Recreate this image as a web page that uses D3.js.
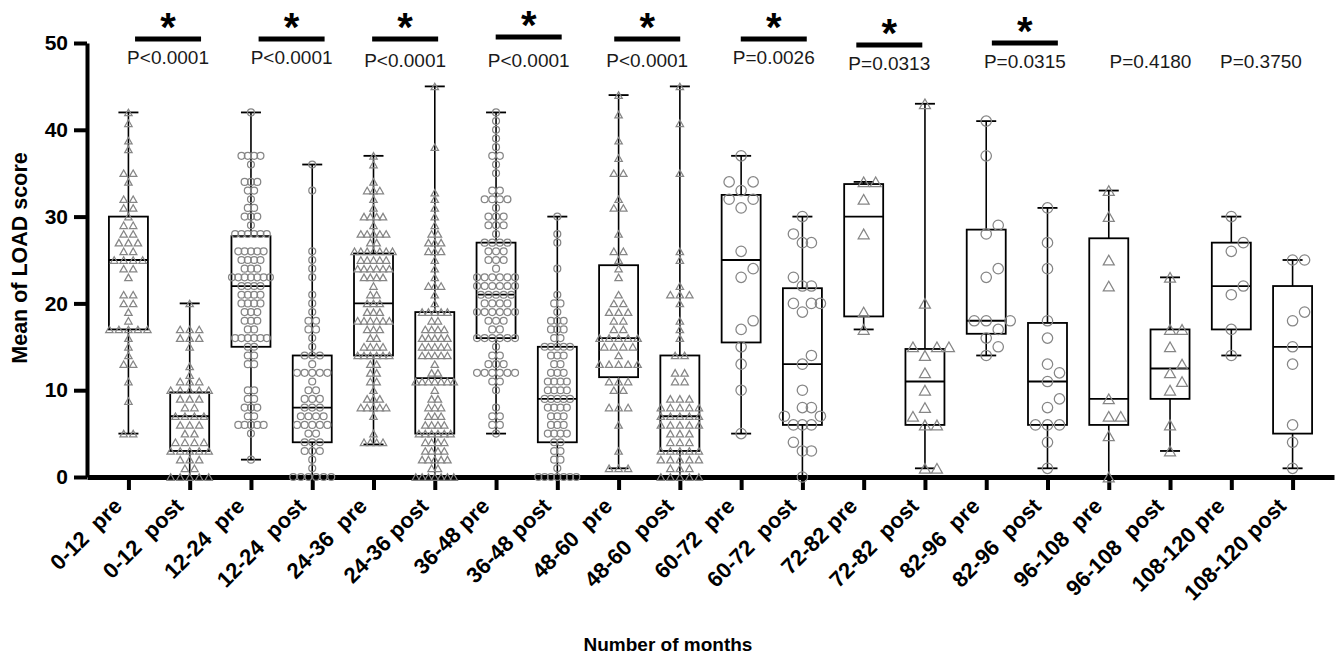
<!DOCTYPE html>
<html>
<head>
<meta charset="utf-8">
<script src="https://cdn.jsdelivr.net/npm/d3@7"></script>
<style>
  html, body { margin: 0; padding: 0; background: #ffffff; }
  svg { display: block; }
  text { font-family: Arial, "Liberation Sans", Helvetica, sans-serif; }
</style>
</head>
<body>
<svg id="chart" width="1340" height="661"></svg>
<script>
// ---- categories (pre / post pairs by follow-up window) ----
const categories = [
  "0-12  pre", "0-12  post", "12-24  pre", "12-24  post", "24-36  pre", "24-36 post",
  "36-48 pre", "36-48 post", "48-60  pre", "48-60  post", "60-72  pre", "60-72  post",
  "72-82 pre", "72-82  post", "82-96  pre", "82-96  post", "96-108  pre", "96-108  post",
  "108-120 pre", "108-120 post"
];

// ---- individual mean LOAD scores per group ----
const pre0_12 = [42, 40.75, 38.75, 37.75, 35, 35, 34, 32, 32, 31, 31, 30, 29, 29, 28, 28, 27, 27, 27, 26, 26, 25, 25, 25, 25, 24, 24, 23, 21, 21, 20, 20, 19, 18, 17, 17, 17, 17, 17, 16, 15, 14, 13, 13, 11, 8.75, 5, 5];
const post0_12 = [20, 17, 17, 17, 16, 16, 16, 15, 12.75, 11.75, 11, 11, 11, 10, 10, 10, 10, 10, 9, 9, 9, 8, 8, 7, 7, 7, 7, 6, 6, 6, 5, 5, 4, 4, 4, 4, 3, 3, 3, 3, 3, 2, 2, 2, 1, 1, 0, 0, 0, 0, 0];
const pre12_24 = [42, 37, 37, 37, 37, 36, 34, 34, 34, 33, 33, 32, 31, 31, 30, 30, 30, 29, 28, 28, 28, 28, 28, 28, 26, 26, 26, 26, 26, 25, 25, 25, 25, 24, 24, 24, 23, 23, 23, 23, 23, 23, 23, 22, 22, 22, 22, 21, 21, 21, 21, 20, 20, 20, 20, 19, 19, 19, 18, 18, 18, 17, 17, 16, 16, 16, 16, 16, 16, 15, 15, 14, 14, 13, 13, 10, 10, 9, 9, 8, 8, 8, 7, 7, 6, 6, 6, 6, 6, 5, 2];
const post12_24 = [36, 33, 26, 25, 24, 23, 21, 20, 19, 18, 18, 17, 17, 16, 15, 14, 14, 14, 13, 12, 12, 12, 12, 12, 11, 10, 10, 9, 9, 9, 8, 8, 8, 7, 7, 7, 7, 6, 6, 6, 6, 6, 5, 5, 4, 4, 4, 3, 3, 3, 2, 1, 0, 0, 0, 0, 0, 0];
const pre24_36 = [37, 36, 34, 33, 33, 33, 32, 31, 30, 30, 30, 30, 29, 28, 28, 28, 28, 28, 27, 27, 26, 26, 26, 26, 26, 26, 26, 25, 25, 25, 25, 25, 24, 24, 24, 24, 24, 24, 23, 23, 23, 23, 22, 21, 21, 20, 20, 20, 19, 19, 19, 18, 18, 18, 18, 18, 18, 17, 17, 17, 16, 16, 15, 15, 15, 15, 14, 14, 14, 14, 14, 14, 13, 13, 12, 12, 11, 11, 10, 9, 9, 9, 8, 8, 8, 8, 8, 7, 5, 4, 4, 4, 4];
const post24_36 = [45, 38, 32.75, 32, 31, 30, 29, 28, 28, 27, 27, 27, 26, 26, 26, 25, 24, 23, 22, 22, 22, 21, 20, 19, 19, 19, 19, 19, 18, 18, 17, 17, 17, 17, 16, 16, 16, 16, 16, 15, 15, 15, 15, 15, 14, 14, 14, 14, 14, 13, 12, 12, 11, 11, 11, 11, 11, 11, 11, 10, 9, 9, 8, 8, 8, 7, 7, 7, 6, 6, 6, 6, 5, 5, 5, 5, 5, 5, 4, 4, 4, 4, 3, 3, 3, 3, 2, 2, 2, 2, 2, 1, 1, 0, 0, 0, 0, 0, 0, 0];
const pre36_48 = [42, 41, 40, 39, 38, 37, 37, 36, 35, 33, 33, 32, 32, 32, 32, 31, 30, 30, 30, 29, 29, 29, 28, 27, 27, 27, 27, 26, 26, 26, 25, 25, 25, 24, 23, 23, 23, 23, 23, 23, 22, 22, 22, 22, 22, 22, 21, 21, 21, 21, 21, 20, 20, 20, 20, 19, 19, 19, 19, 19, 19, 18, 18, 18, 17, 17, 16, 16, 16, 16, 16, 16, 15, 14, 14, 13, 13, 13, 12, 12, 12, 12, 12, 12, 11, 11, 10, 8, 7, 7, 6, 6, 5];
const post36_48 = [30, 28, 27, 24, 21, 20, 20, 19, 18, 18, 18, 17, 17, 17, 16, 16, 15, 15, 15, 15, 15, 14, 14, 14, 13, 13, 12, 12, 12, 11, 11, 11, 11, 10, 10, 10, 10, 9, 9, 9, 9, 9, 8, 8, 8, 8, 7, 7, 7, 6, 6, 6, 5, 5, 5, 5, 4, 4, 3, 3, 2, 2, 1, 0, 0, 0, 0, 0, 0, 0];
const pre48_60 = [44, 41.75, 38.75, 36.75, 35, 35, 32, 31, 31, 28, 26, 26, 25, 24, 23, 21, 20, 20, 19, 19, 19, 18, 18, 17, 17, 16, 16, 16, 16, 16, 15, 15, 15, 15, 14, 13, 13, 13, 13, 13, 11, 11, 11, 10, 10, 8, 8, 8, 6, 3, 1, 1, 1];
const post48_60 = [45, 40.75, 35, 26, 25, 22, 21, 21, 21, 20, 18, 17, 16, 14, 14, 12, 12, 11, 11, 9, 9, 9, 8, 8, 8, 8, 8, 7, 7, 7, 7, 7, 6, 6, 6, 6, 6, 5, 5, 5, 4, 4, 4, 3, 3, 3, 3, 3, 2, 2, 2, 2, 2, 1, 1, 1, 0, 0, 0, 0, 0];
const pre60_72 = [37, 34, 34, 33, 32, 32, 31, 26, 24, 23, 18, 17, 15, 13, 10, 5];
const post60_72 = [30, 28, 27, 27, 23, 22, 22, 20, 20, 20, 19, 14, 13, 10, 8, 8, 7, 7, 6, 6, 6, 4, 3, 3, 0];
const pre72_82 = [34, 34, 32, 28, 19, 17];
const post72_82 = [43, 20, 15, 15, 15, 14, 12, 10, 8, 7, 6, 6, 1, 1];
const pre82_96 = [41, 37, 29, 28, 24, 23, 18, 18, 18, 17, 16, 15, 14];
const post82_96 = [31, 27, 24, 18, 16, 13, 12, 11, 9, 8, 6, 6, 6, 4, 1];
const pre96_108 = [33, 30, 25, 22, 9, 7, 7, 4.75, 0];
const post96_108 = [23, 17, 17, 15, 13, 12, 11, 10, 6, 3];
const pre108_120 = [30, 27, 26, 22, 21, 17, 14];
const post108_120 = [25, 25, 19, 18, 15, 13, 6, 4, 1];

const groupValues = [
  pre0_12, post0_12, pre12_24, post12_24, pre24_36, post24_36, pre36_48, post36_48,
  pre48_60, post48_60, pre60_72, post60_72, pre72_82, post72_82, pre82_96, post82_96,
  pre96_108, post96_108, pre108_120, post108_120
];

// ---- box summary: whisker ends (min-max), quartiles, median ----
const boxMin    = [5, 0, 2, 0, 3.75, 0, 5, 0, 1, 0, 5, 0, 17, 1, 14, 1, 0, 3, 14, 1];
const boxQ1     = [17, 3, 15, 4, 14, 5, 16, 4, 11.5, 3, 15.5, 6, 18.5, 6, 16.5, 6, 6, 9, 17, 5];
const boxMedian = [25, 7, 22, 8, 20, 11.4, 21, 9, 16, 7, 25, 13, 30, 11, 18, 11, 9, 12.5, 22, 15];
const boxQ3     = [30, 9.75, 27.75, 14, 25.75, 19, 27, 15, 24.4, 14, 32.5, 21.75, 33.75, 14.75, 28.5, 17.75, 27.5, 17, 27, 22];
const boxMax    = [42, 20, 42, 36, 37, 45, 42, 30, 44, 45, 37, 30, 34, 43, 41, 31, 33, 23, 30, 25];

// ---- pre vs post comparisons ----
const pairPValues = ["P<0.0001", "P<0.0001", "P<0.0001", "P<0.0001", "P<0.0001",
                     "P=0.0026", "P=0.0313", "P=0.0315", "P=0.4180", "P=0.3750"];
const pairSignificant = [true, true, true, true, true, true, true, true, false, false];

const yTicks = [0, 10, 20, 30, 40, 50];

// ---- annotation placement tweaks (pixels) ----
const annotDx = [9, 10, 1, 2, -2, 2, -5, 8, 11, -1];
const annotBarY = [39, 39, 39, 37, 39, 39, 45, 43, 43, 43];
const annotTextY = [64, 64, 67, 67, 67, 64, 70, 68, 68, 68];

// ---- drawing ----
const svg = d3.select("#chart");
const FONT = "Arial, 'Liberation Sans', Helvetica, sans-serif";
const MARK_GREY = "#868686";

const x = d3.scalePoint().domain(categories).range([87, 1334]).padding(0.676);
const y = d3.scaleLinear().domain([0, 50]).range([477, 43]);

// x axis (thick baseline with ticks)
const gx = svg.append("g").attr("transform", "translate(0,477)")
  .call(d3.axisBottom(x).tickSize(13).tickSizeOuter(0).tickFormat(d => d));
gx.select(".domain").attr("stroke", "#000").attr("stroke-width", 5);
gx.selectAll(".tick line").attr("stroke", "#000").attr("stroke-width", 4);
gx.selectAll(".tick text")
  .attr("fill", "#000")
  .style("white-space", "pre")
  .attr("font-family", FONT)
  .attr("font-weight", "bold")
  .attr("font-size", 22)
  .attr("text-anchor", "end")
  .attr("x", 0).attr("y", 0).attr("dy", "0.35em")
  .attr("transform", "translate(-11,25) rotate(-45)");

// y axis
const gy = svg.append("g").attr("transform", "translate(87,0)")
  .call(d3.axisLeft(y).tickValues(yTicks).tickSize(13).tickSizeOuter(0).tickPadding(6));
gy.select(".domain").attr("stroke", "#000").attr("stroke-width", 4);
gy.selectAll(".tick line").attr("stroke", "#000").attr("stroke-width", 4);
gy.selectAll(".tick text")
  .attr("fill", "#000")
  .attr("font-family", FONT)
  .attr("font-weight", "bold")
  .attr("font-size", 21);

// axis titles
svg.append("text")
  .attr("transform", "translate(27,258) rotate(-90)")
  .attr("text-anchor", "middle")
  .attr("font-family", FONT).attr("font-weight", "bold").attr("font-size", 21.5)
  .text("Mean of LOAD score");

svg.append("text")
  .attr("x", 668).attr("y", 651)
  .attr("text-anchor", "middle")
  .attr("font-family", FONT).attr("font-weight", "bold").attr("font-size", 19)
  .text("Number of months");

// box-and-whisker plots
const boxW = 39, capW = 20;
const boxes = svg.append("g").attr("stroke", "#000").attr("fill", "none");
categories.forEach((cat, i) => {
  const cx = x(cat);
  const g = boxes.append("g");
  g.append("line").attr("x1", cx).attr("x2", cx)
    .attr("y1", y(boxMin[i])).attr("y2", y(boxQ1[i])).attr("stroke-width", 1.6);
  g.append("line").attr("x1", cx).attr("x2", cx)
    .attr("y1", y(boxQ3[i])).attr("y2", y(boxMax[i])).attr("stroke-width", 1.6);
  [boxMin[i], boxMax[i]].forEach(v => {
    g.append("line").attr("x1", cx - capW / 2).attr("x2", cx + capW / 2)
      .attr("y1", y(v)).attr("y2", y(v)).attr("stroke-width", 1.8);
  });
  g.append("rect").attr("x", cx - boxW / 2).attr("width", boxW)
    .attr("y", y(boxQ3[i])).attr("height", y(boxQ1[i]) - y(boxQ3[i]))
    .attr("stroke-width", 1.8);
  g.append("line").attr("x1", cx - boxW / 2).attr("x2", cx + boxW / 2)
    .attr("y1", y(boxMedian[i])).attr("y2", y(boxMedian[i])).attr("stroke-width", 1.8);
});

// scatter of individual values, spread sideways where symbols would overlap
function spreadPoints(values, size, step, dense) {
  const pts = values.map(v => ({ v, py: y(v), dx: 0 })).sort((a, b) => a.v - b.v);
  const placed = [];
  const reach = dense ? size * 0.9 : size;
  pts.forEach(p => {
    for (let k = 0; k < 60; k++) {
      const off = k === 0 ? 0 : (k % 2 ? 1 : -1) * Math.ceil(k / 2) * step;
      const hit = placed.some(q => Math.abs(q.dx - off) < step * 0.99 && Math.abs(q.py - p.py) < reach);
      if (!hit) { p.dx = off; break; }
    }
    placed.push(p);
  });
  if (dense) {
    d3.group(pts, d => d.v).forEach(row => {
      const m = d3.mean(row, d => d.dx);
      row.forEach(d => { d.dx -= m; });
    });
  }
  return pts;
}

function trianglePath(w) {
  const h = w * 0.88;
  return `M${-w / 2},${h / 2}L${w / 2},${h / 2}L0,${-h / 2}Z`;
}

const marks = svg.append("g").attr("fill", "none").attr("stroke", MARK_GREY).attr("stroke-width", 1.25);
categories.forEach((cat, i) => {
  const values = groupValues[i];
  const triangle = Math.floor(i / 2) % 2 === 0;
  const dense = i < 10;
  const size = dense ? (triangle ? 7.4 : 6.9) : (triangle ? 11 : 10.4);
  let step;
  if (dense) {
    const maxRow = d3.max(d3.rollup(values, r => r.length, d => d).values());
    step = Math.min(size * 1.45, 38 / Math.max(1, maxRow - 1));
  } else {
    step = values.length > 20 ? 9 : 12;
  }
  const pts = spreadPoints(values, size, step, dense);
  const cx = x(cat);
  pts.forEach(p => {
    if (triangle) {
      marks.append("path")
        .attr("transform", `translate(${cx + p.dx},${p.py})`)
        .attr("d", trianglePath(size));
    } else {
      marks.append("circle")
        .attr("cx", cx + p.dx).attr("cy", p.py).attr("r", size / 2);
    }
  });
});

// significance annotations
const annot = svg.append("g");
pairPValues.forEach((label, p) => {
  const a = x(categories[2 * p]), b = x(categories[2 * p + 1]);
  const cx = (a + b) / 2 + annotDx[p];
  if (pairSignificant[p]) {
    annot.append("line")
      .attr("x1", cx - 33).attr("x2", cx + 33)
      .attr("y1", annotBarY[p]).attr("y2", annotBarY[p])
      .attr("stroke", "#000").attr("stroke-width", 5);
    annot.append("text")
      .attr("x", cx).attr("y", annotBarY[p] + 2)
      .attr("text-anchor", "middle")
      .attr("font-family", FONT).attr("font-weight", "bold").attr("font-size", 40)
      .text("*");
  }
  annot.append("text")
    .attr("x", cx).attr("y", annotTextY[p])
    .attr("text-anchor", "middle")
    .attr("font-family", FONT).attr("font-size", 19)
    .attr("fill", "#1a1a1a")
    .text(label);
});
</script>
</body>
</html>
